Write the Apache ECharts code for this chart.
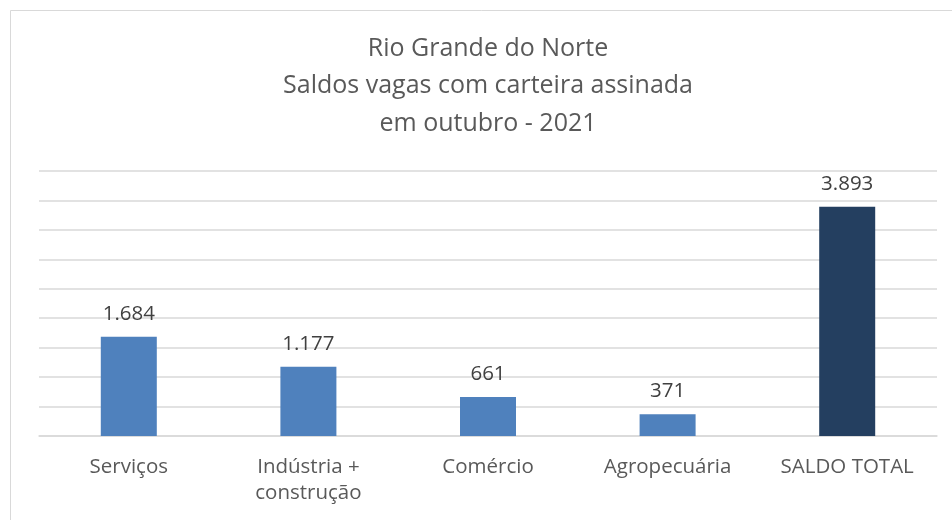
<!DOCTYPE html>
<html>
<head>
<meta charset="utf-8">
<script src="https://cdn.jsdelivr.net/npm/echarts@6/dist/echarts.min.js"></script>
<style>
  html, body { margin: 0; padding: 0; background: #fff; }
  #main { width: 952px; height: 520px; }
</style>
</head>
<body>
<div id="main"></div>
<script>
// dados - saldos de vagas RN, outubro 2021
var setores = ['Serviços', 'Indústria +\nconstrução', 'Comércio', 'Agropecuária', 'SALDO TOTAL'];
var saldos = [1684, 1177, 661, 371, 3893];
var cores = ['#4F81BD', '#4F81BD', '#4F81BD', '#4F81BD', '#243F60'];
var titulo = ['Rio Grande do Norte', 'Saldos vagas com carteira assinada', 'em outubro - 2021'];

var fonte = 'Open Sans';

function formataMilhar(v) {
    return String(v).replace(/\B(?=(\d{3})+(?!\d))/g, '.');
}

var chart = echarts.init(document.getElementById('main'), null, { renderer: 'canvas' });

var option = {
    backgroundColor: '#fff',
    animation: false,
    graphic: [
        {
            type: 'rect',
            shape: { x: 10.5, y: 10.5, width: 960, height: 530 },
            style: { fill: 'none', stroke: '#D9D9D9', lineWidth: 1 },
            silent: true
        },
        {
            type: 'text',
            x: 488,
            y: 30,
            style: {
                text: titulo.join('\n'),
                fill: '#595959',
                font: '25px "' + fonte + '"',
                lineHeight: 37.5,
                align: 'center'
            }
        }
    ],
    grid: { left: 39, right: 15, top: 171, bottom: 84 },
    xAxis: {
        type: 'category',
        data: setores,
        axisTick: { show: false },
        axisLine: { lineStyle: { color: '#D9D9D9', width: 1.5 } },
        axisLabel: {
            color: '#595959',
            fontFamily: fonte,
            fontSize: 20.5,
            lineHeight: 26,
            margin: 18,
            interval: 0
        }
    },
    yAxis: {
        type: 'value',
        min: 0,
        max: 4500,
        interval: 500,
        axisLabel: { show: false },
        axisLine: { show: false },
        axisTick: { show: false },
        splitLine: { lineStyle: { color: '#D9D9D9', width: 1.5 } }
    },
    series: [{
        type: 'bar',
        data: saldos.map(function (v, i) {
            return { value: v, itemStyle: { color: cores[i] } };
        }),
        barWidth: 56,
        label: {
            show: true,
            position: 'top',
            distance: 12,
            color: '#404040',
            fontFamily: fonte,
            fontSize: 20.5,
            formatter: function (p) { return formataMilhar(p.value); }
        }
    }]
};

chart.setOption(option);
</script>
</body>
</html>
